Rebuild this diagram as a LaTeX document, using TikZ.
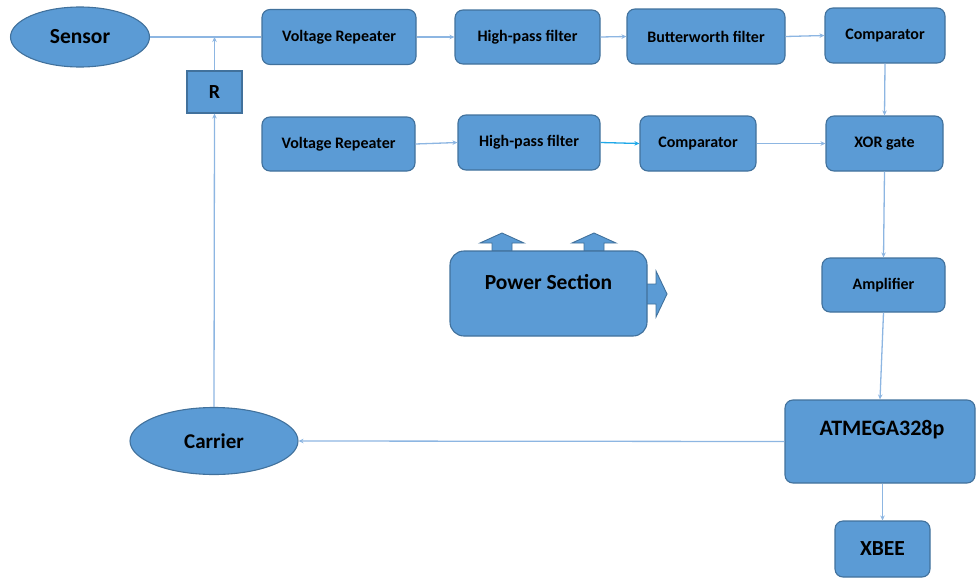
\documentclass[tikz,border=0pt]{standalone}
\usepackage{fontspec}
\setmainfont{Carlito}
\usetikzlibrary{arrows.meta,shapes.geometric}
\definecolor{fillc}{HTML}{5B9BD5}
\definecolor{bordc}{HTML}{41719C}
\definecolor{linec}{HTML}{8DB6E2}
\definecolor{cyanc}{HTML}{1FA8E8}
\tikzset{
  blk/.style={draw=bordc, fill=fillc, rounded corners=8pt, line width=1.1pt, inner sep=0pt, font=\bfseries\fontsize{16}{18}\selectfont, text=black},
  ell/.style={ellipse, draw=bordc, fill=fillc, line width=1.1pt, inner sep=0pt, font=\bfseries\fontsize{21.5}{24}\selectfont, text=black},
  conn/.style={draw=linec, line width=1.3pt},
  arr/.style={conn, -{Stealth[length=5pt,width=4.5pt]}},
  blockarrow/.style={draw=bordc, fill=fillc, line width=0.9pt},
}
\begin{document}
\begin{tikzpicture}[x=1pt,y=-1pt]
\useasboundingbox (0,0) rectangle (977,581);
% ellipses
\node[ell, minimum width=139pt, minimum height=60pt] (sensor) at (80,37) {Sensor};
\node[ell, minimum width=168pt, minimum height=67pt, font=\bfseries\fontsize{21}{24}\selectfont] (carrier) at (214,441) {Carrier};
% R
\node[blk, rounded corners=0pt, minimum width=55pt, minimum height=42pt, font=\bfseries\fontsize{20}{22}\selectfont] (r) at (214.5,92) {R};
% row 1
\node[blk, minimum width=154pt, minimum height=55pt] (vr1) at (339,37) {Voltage Repeater};
\node[blk, minimum width=145pt, minimum height=54pt] (hp1) at (527.5,37) {High-pass filter};
\node[blk, minimum width=158pt, minimum height=55pt] (bw) at (706,36.5) {Butterworth filter};
\node[blk, minimum width=120pt, minimum height=55pt] (comp1) at (885,35.5) {Comparator};
% row 2
\node[blk, minimum width=153pt, minimum height=54pt] (vr2) at (338.5,144) {Voltage Repeater};
\node[blk, minimum width=142pt, minimum height=55pt] (hp2) at (529,142.5) {High-pass filter};
\node[blk, minimum width=116pt, minimum height=55pt] (comp2) at (698,143.5) {Comparator};
\node[blk, minimum width=117pt, minimum height=55pt] (xor) at (884.5,143.5) {XOR gate};
% amplifier
\node[blk, minimum width=123pt, minimum height=54pt] (amp) at (883.5,285) {Amplifier};
% ATMEGA
\node[blk, minimum width=190pt, minimum height=83pt] (atm) at (880,441.5) {};
\node[font=\bfseries\fontsize{22}{24}\selectfont, inner sep=0pt] (atmtxt) at (882,430) {ATMEGA328p};
% XBEE
\node[blk, minimum width=95pt, minimum height=56pt, font=\bfseries\fontsize{21.5}{24}\selectfont] (xbee) at (882.5,549) {XBEE};
% power section block arrows
\filldraw[blockarrow] (492,251) -- (492,243) -- (480,243) -- (502,233) -- (524,243) -- (512,243) -- (512,251) -- cycle;
\filldraw[blockarrow] (584,251) -- (584,243) -- (572,243) -- (594,233) -- (616,243) -- (604,243) -- (604,251) -- cycle;
\filldraw[blockarrow] (645,284) -- (656,284) -- (656,271) -- (667,294) -- (656,317) -- (656,304) -- (645,304) -- cycle;
\node[blk, rounded corners=14pt, minimum width=197pt, minimum height=85pt] (pow) at (548.5,293.5) {};
\node[font=\bfseries\fontsize{21.5}{24}\selectfont, inner sep=0pt] (powtxt) at (548.5,282) {Power Section};
% connectors
\coordinate (j) at (r.north |- sensor.east);
\draw[conn] (sensor.east) -- (vr1.west);
\draw[arr] (r.north) -- (j);
\draw[arr] (carrier.north) -- (r.south);
\draw[arr] (vr1.east) -- (hp1.west);
\draw[arr] (hp1.east) -- (bw.west);
\draw[arr] (bw.east) -- (comp1.west);
\draw[arr] (comp1.south) -- (xor.north);
\draw[arr] (vr2.east) -- (hp2.west);
\draw[arr, draw=cyanc] (hp2.east) -- (comp2.west);
\draw[arr] (comp2.east) -- (xor.west);
\draw[arr] (xor.south) -- (amp.north);
\draw[arr] (amp.south) -- (atm.north);
\draw[arr] (atm.south -| xbee.north) -- (xbee.north);
\draw[arr] (atm.west) -- (carrier.east);
\end{tikzpicture}
\end{document}
